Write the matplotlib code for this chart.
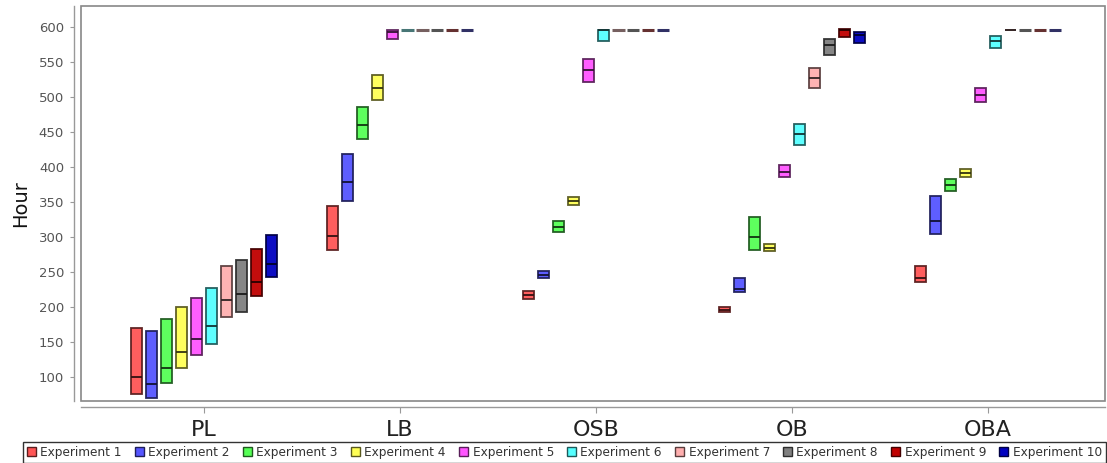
import matplotlib
matplotlib.use("Agg")
import matplotlib.pyplot as plt
from matplotlib.patches import Rectangle, Patch
import numpy as np

categories = ["PL", "LB", "OSB", "OB", "OBA"]
experiments = ["Experiment %d" % i for i in range(1, 11)]
colors = ["#FF5555", "#5555FF", "#55FF55", "#FFFF55", "#FF55FF",
          "#55FFFF", "#FFAFAF", "#808080", "#C00000", "#0000C0"]

# lower / median / upper per experiment (rows) and category (columns)
box_low = [
    [76, 281, 211, 192, 235],
    [69, 351, 241, 221, 304],
    [91, 440, 307, 281, 366],
    [113, 496, 346, 279, 386],
    [131, 583, 521, 385, 492],
    [147, 596, 579, 431, 569],
    [185, 596, 596, 513, 595],
    [193, 596, 596, 559, 596],
    [216, 596, 596, 585, 596],
    [242, 596, 596, 577, 596],
]
box_med = [
    [100, 301, 217, 196, 241],
    [90, 378, 246, 226, 323],
    [112, 459, 314, 299, 374],
    [135, 513, 351, 284, 391],
    [154, 593, 538, 393, 502],
    [172, 596, 595, 447, 579],
    [209, 596, 596, 527, 596],
    [218, 596, 596, 574, 596],
    [235, 596, 596, 595, 596],
    [261, 596, 596, 588, 596],
]
box_high = [
    [169, 344, 222, 200, 258],
    [165, 418, 251, 241, 358],
    [182, 486, 322, 328, 382],
    [200, 531, 357, 289, 397],
    [212, 595, 554, 402, 512],
    [227, 596, 596, 461, 587],
    [258, 596, 596, 541, 596],
    [267, 596, 596, 583, 596],
    [282, 596, 596, 597, 596],
    [303, 596, 596, 592, 596],
]
yticks = list(range(100, 601, 50))

W, H = 1107, 463
fig = plt.figure(figsize=(W / 100, H / 100), dpi=100)
ax = fig.add_axes([80.7 / W, 1 - 401 / H, (1105 - 80.7) / W, (401 - 5.7) / H])

step = 0.076
bw = 0.056

def darker(c, f=0.35):
    r, g, b = matplotlib.colors.to_rgb(c)
    return (r * f, g * f, b * f)

def mixgray(c, f=0.55):
    r, g, b = matplotlib.colors.to_rgb(c)
    return (r * (1 - f) * 0.6 + 0.35 * f, g * (1 - f) * 0.6 + 0.35 * f, b * (1 - f) * 0.6 + 0.35 * f)

for i in range(len(experiments)):
    for j in range(len(categories)):
        x = j + (i - 4.5) * step
        lo, md, hi = box_low[i][j], box_med[i][j], box_high[i][j]
        if hi - lo < 1e-9:
            ax.plot([x - bw / 2 - 0.004, x + bw / 2 + 0.004], [md, md],
                    color=mixgray(colors[i]), linewidth=2.2, zorder=3,
                    solid_capstyle="butt")
            continue
        ax.add_patch(Rectangle((x - bw / 2, lo), bw, hi - lo,
                               facecolor=colors[i], edgecolor=darker(colors[i]),
                               linewidth=1.3, alpha=0.95, zorder=3))
        ax.plot([x - bw / 2, x + bw / 2], [md, md], color=darker(colors[i], 0.2),
                linewidth=1.3, zorder=4, solid_capstyle="butt")

ax.set_xlim(-0.629, 4.597)
ax.set_ylim(65.3, 630)
ax.set_xticks(range(len(categories)))
ax.set_xticklabels(categories)
ax.set_yticks(yticks)
ax.set_yticklabels([str(v) for v in yticks])
ax.tick_params(axis="x", length=4, color="#999999", pad=6, labelsize=16,
               labelcolor="#222222")
ax.tick_params(axis="y", length=3, color="#999999", pad=4, labelsize=9.5,
               labelcolor="#555555")

for s in ["top", "right"]:
    ax.spines[s].set_visible(False)
ax.spines["left"].set_position(("outward", 5))
ax.spines["bottom"].set_position(("outward", 4))
for s in ["left", "bottom"]:
    ax.spines[s].set_color("#999999")
    ax.spines[s].set_linewidth(1)

ax.add_patch(Rectangle((0, 0), 1, 1, transform=ax.transAxes, fill=False,
                       edgecolor="#888888", linewidth=1.2, clip_on=False, zorder=5))

fig.text(21 / W, 0.56, "Hour", rotation=90, va="center", ha="center", fontsize=14,
         color="#111111")

handles = [Patch(facecolor=colors[i], edgecolor=darker(colors[i]), linewidth=1)
           for i in range(len(experiments))]
leg = fig.legend(handles, experiments, ncol=10, loc="lower left",
                 bbox_to_anchor=(22.7 / W, 0.0, (1106 - 22.7) / W, 24 / H),
                 mode="expand", borderaxespad=0, fontsize=8.7, frameon=True,
                 fancybox=False, handlelength=0.75, handleheight=0.75,
                 handletextpad=0.35, columnspacing=0.4, borderpad=0.35,
                 labelcolor="#333333")
leg.get_frame().set_edgecolor("black")
leg.get_frame().set_linewidth(1)

fig.savefig("out.png", dpi=100)
